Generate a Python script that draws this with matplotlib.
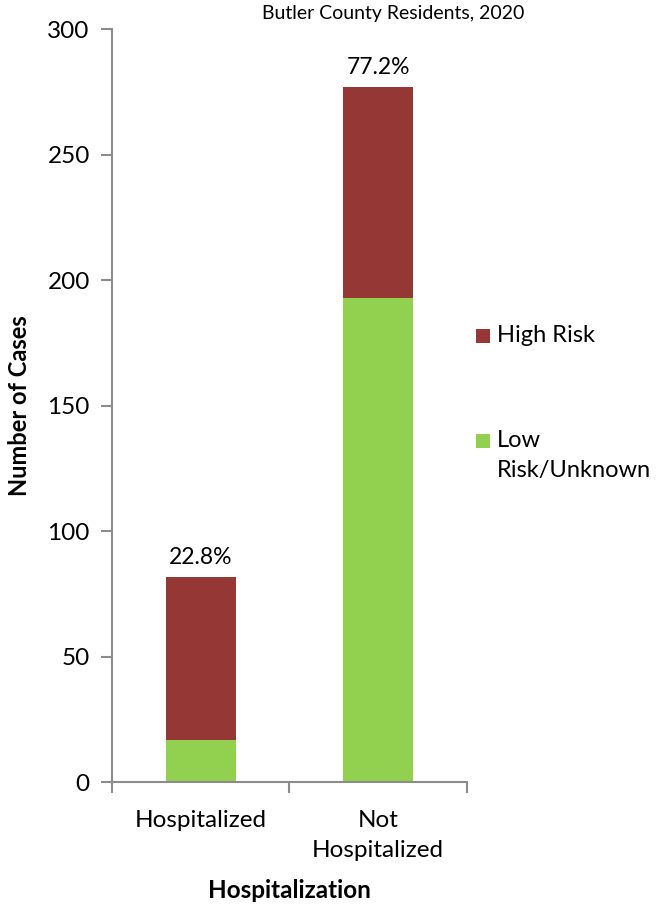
import matplotlib
matplotlib.use("Agg")
import matplotlib.pyplot as plt
from matplotlib.patches import Rectangle
import numpy as np

plt.rcParams["font.family"] = ["Lato", "DejaVu Sans"]

# data
categories = ["Hospitalized", "Not\nHospitalized"]
low_risk = [17, 193]
high_risk = [65, 84]
pct_labels = ["22.8%", "77.2%"]

GREEN = "#92d050"
RED = "#953735"
AXIS_GREY = "#8c8c8c"

fig = plt.figure(figsize=(6.69, 9.07), dpi=100)
ax = fig.add_axes([0.1674, 0.1373, 0.698 - 0.1674, 0.968 - 0.1373])

x_pos = np.arange(len(categories))
width = 0.395
ax.bar(x_pos, low_risk, width=width, color=GREEN, label="Low\nRisk/Unknown")
ax.bar(x_pos, high_risk, width=width, bottom=low_risk, color=RED, label="High Risk")

totals = [a + b for a, b in zip(low_risk, high_risk)]
for xp, tot, lab in zip(x_pos, totals, pct_labels):
    ax.annotate(lab, (xp, tot), xytext=(0, 6), textcoords="offset points",
                ha="center", va="bottom", fontsize=16.5)

ax.set_xlim(-0.5, 1.5)
ax.set_ylim(0, 300)
ax.set_yticks(np.arange(0, 301, 50))
ax.set_xticks([-0.5, 0.5, 1.5], minor=False)
ax.set_xticklabels([])
ax.set_xticks(x_pos, minor=True)
ax.set_xticklabels(categories, minor=True, fontsize=17.5, linespacing=1.5)
ax.tick_params(axis="x", which="minor", length=0, pad=20)
ax.tick_params(axis="x", which="major", length=8, width=1.5, color=AXIS_GREY, direction="out")
ax.tick_params(axis="y", length=8, width=1.5, color=AXIS_GREY, direction="out", labelsize=17.5, pad=8)

for side in ["top", "right"]:
    ax.spines[side].set_visible(False)
for side in ["left", "bottom"]:
    ax.spines[side].set_color(AXIS_GREY)
    ax.spines[side].set_linewidth(1.5)

ax.set_ylabel("Number of Cases", fontsize=17, fontweight="bold", labelpad=12)
ax.set_xlabel("Hospitalization", fontsize=17.5, fontweight="bold", labelpad=13)

fig.text(393 / 669, 1 - 14 / 907, "Butler County Residents, 2020",
         ha="center", va="center", fontsize=14)

# legend drawn by hand so the square sits next to the first line
W, H = 669, 907
legend_items = [("High Risk", RED, 336), ("Low\nRisk/Unknown", GREEN, 441)]
for label, color, ypix in legend_items:
    fig.patches.append(Rectangle((476 / W, 1 - (ypix + 7) / H), 14 / W, 14 / H,
                                 transform=fig.transFigure, facecolor=color,
                                 edgecolor="none"))
    fig.text(497 / W, 1 - (ypix - 11) / H, label, ha="left", va="top",
             fontsize=17, linespacing=1.55)

fig.savefig("out.png", dpi=100)
